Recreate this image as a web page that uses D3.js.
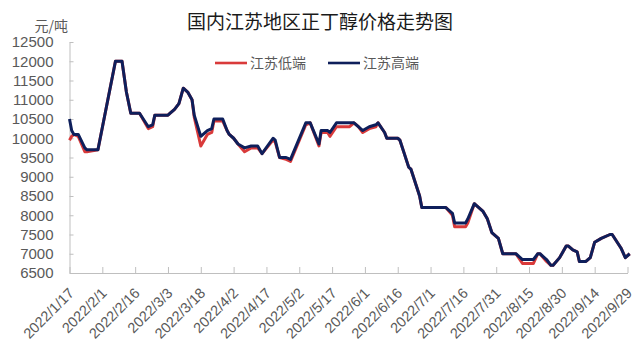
<!DOCTYPE html>
<html>
<head>
<meta charset="utf-8">
<script src="https://cdn.jsdelivr.net/npm/d3@7"></script>
<style>
body { margin: 0; background: #fff; }
svg { font-family: "Noto Sans CJK SC", "Noto Sans", sans-serif; }
.axis path, .axis line { stroke: #bfbfbf; }
.axis text { fill: #595959; }
</style>
</head>
<body>
<svg width="640" height="364"></svg>
<script>
var dates = [
  "2022/1/17","2022/1/18","2022/1/19","2022/1/21","2022/1/24","2022/1/25","2022/1/30","2022/2/7","2022/2/10","2022/2/12",
  "2022/2/14","2022/2/18","2022/2/22","2022/2/24","2022/2/25","2022/3/3","2022/3/4","2022/3/6","2022/3/8","2022/3/10",
  "2022/3/12","2022/3/14","2022/3/15","2022/3/18","2022/3/21","2022/3/23","2022/3/24","2022/3/28","2022/3/30","2022/3/31",
  "2022/4/2","2022/4/4","2022/4/7","2022/4/10","2022/4/13","2022/4/15","2022/4/20","2022/4/21","2022/4/23","2022/4/26",
  "2022/4/28","2022/5/5","2022/5/7","2022/5/11","2022/5/12","2022/5/15","2022/5/16","2022/5/19","2022/5/25","2022/5/27",
  "2022/5/29","2022/5/31","2022/6/3","2022/6/6","2022/6/7","2022/6/10","2022/6/11","2022/6/16","2022/6/17","2022/6/19",
  "2022/6/21","2022/6/22","2022/6/24","2022/6/26","2022/6/27","2022/7/8","2022/7/11","2022/7/12","2022/7/17","2022/7/18",
  "2022/7/21","2022/7/22","2022/7/25","2022/7/27","2022/7/29","2022/8/1","2022/8/3","2022/8/9","2022/8/12","2022/8/17",
  "2022/8/19","2022/8/20","2022/8/23","2022/8/25","2022/8/26","2022/8/29","2022/9/1","2022/9/2","2022/9/4","2022/9/6",
  "2022/9/7","2022/9/10","2022/9/12","2022/9/14","2022/9/17","2022/9/21","2022/9/22","2022/9/26","2022/9/28","2022/9/30"
];
// 江苏低端
var low = [
  9950,10050,10100,10050,9650,9650,9700,12000,12000,11200,
  10650,10650,10250,10300,10600,10600,10650,10750,10900,11300,
  11200,11000,10550,9800,10100,10150,10450,10450,10200,10100,
  10000,9850,9650,9750,9750,9600,9950,9900,9500,9450,
  9400,10350,10400,9800,10150,10150,10050,10300,10300,10400,
  10300,10150,10250,10300,10400,10150,10000,10000,9950,9600,
  9250,9200,8850,8500,8200,8200,8000,7700,7700,7800,
  8300,8250,8100,7900,7550,7400,7000,7000,6750,6750,
  7000,7000,6800,6700,6700,6900,7200,7200,7100,7050,
  6800,6800,6900,7300,7400,7500,7500,7150,6900,7000
];
// 江苏高端
var high = [
  10500,10200,10100,10100,9750,9700,9700,12000,12000,11200,
  10650,10650,10300,10350,10600,10600,10650,10750,10900,11300,
  11200,11000,10600,10050,10200,10250,10500,10500,10200,10100,
  10000,9850,9750,9800,9800,9600,10000,9950,9500,9500,
  9450,10400,10400,9850,10200,10200,10150,10400,10400,10400,
  10300,10200,10300,10350,10400,10150,10000,10000,9950,9600,
  9250,9200,8850,8500,8200,8200,8050,7800,7800,7900,
  8300,8250,8100,7900,7550,7400,7000,7000,6850,6850,
  7000,7000,6850,6700,6700,6900,7200,7200,7100,7050,
  6800,6800,6900,7300,7400,7500,7500,7150,6900,7000
];
var tickLabels = [
  "2022/1/17","2022/2/1","2022/2/16","2022/3/3","2022/3/18","2022/4/2","2022/4/17","2022/5/2","2022/5/17",
  "2022/6/1","2022/6/16","2022/7/1","2022/7/16","2022/7/31","2022/8/15","2022/8/30","2022/9/14","2022/9/29"
];
var yTicks = [6500,7000,7500,8000,8500,9000,9500,10000,10500,11000,11500,12000,12500];

var parse = d3.utcParse("%Y/%m/%d");
var fmt = d3.utcFormat("%Y/%-m/%-d");
var svg = d3.select("svg");

var x = d3.scaleUtc()
    .domain([parse("2022/1/17"), parse("2022/9/29")])
    .range([69.5, 627.5]);
var y = d3.scaleLinear()
    .domain([6500, 12500])
    .range([273, 42]);

var lowData = dates.map(function (d, i) { return { date: parse(d), value: low[i] }; });
var highData = dates.map(function (d, i) { return { date: parse(d), value: high[i] }; });

// title
svg.append("text")
    .attr("x", 320)
    .attr("y", 29)
    .attr("text-anchor", "middle")
    .style("font-size", "19px")
    .style("fill", "#1a1a1a")
    .text("国内江苏地区正丁醇价格走势图");

// unit
svg.append("text")
    .attr("x", 68)
    .attr("y", 31)
    .attr("text-anchor", "end")
    .style("font-size", "14px")
    .style("fill", "#595959")
    .text("元/吨");

// y axis
var yAxis = svg.append("g")
    .attr("class", "axis")
    .attr("transform", "translate(69.5,0)")
    .call(d3.axisLeft(y).tickValues(yTicks).tickFormat(d3.format("d"))
        .tickSize(-4).tickSizeOuter(0).tickPadding(16));
yAxis.selectAll("text").style("font-size", "15px");

// x axis
var xAxis = svg.append("g")
    .attr("class", "axis")
    .attr("transform", "translate(0,273)")
    .call(d3.axisBottom(x).tickValues(tickLabels.map(parse)).tickFormat(fmt).tickSize(-6).tickSizeOuter(0));
xAxis.selectAll("text")
    .attr("x", 0).attr("y", 0).attr("dy", 0)
    .attr("text-anchor", "end")
    .attr("transform", "translate(5,21) rotate(-45)")
    .style("font-size", "14.5px");

// lines
var line = d3.line()
    .x(function (d) { return x(d.date); })
    .y(function (d) { return y(d.value); });

svg.append("path")
    .datum(lowData)
    .attr("fill", "none")
    .attr("stroke", "#d93a3a")
    .attr("stroke-width", 3)
    .attr("stroke-linejoin", "round")
    .attr("d", line);

svg.append("path")
    .datum(highData)
    .attr("fill", "none")
    .attr("stroke", "#0e1f5b")
    .attr("stroke-width", 3)
    .attr("stroke-linejoin", "round")
    .attr("d", line);

// legend
var legend = [
  { name: "江苏低端", color: "#d93a3a", x: 215 },
  { name: "江苏高端", color: "#0e1f5b", x: 328 }
];
var lg = svg.append("g").selectAll("g").data(legend).enter().append("g")
    .attr("transform", function (d) { return "translate(" + d.x + ",63)"; });
lg.append("line")
    .attr("x1", 0).attr("x2", 32)
    .attr("stroke", function (d) { return d.color; })
    .attr("stroke-width", 2.6);
lg.append("text")
    .attr("x", 35)
    .attr("y", 5)
    .style("font-size", "14px")
    .style("fill", "#595959")
    .text(function (d) { return d.name; });
</script>
</body>
</html>
